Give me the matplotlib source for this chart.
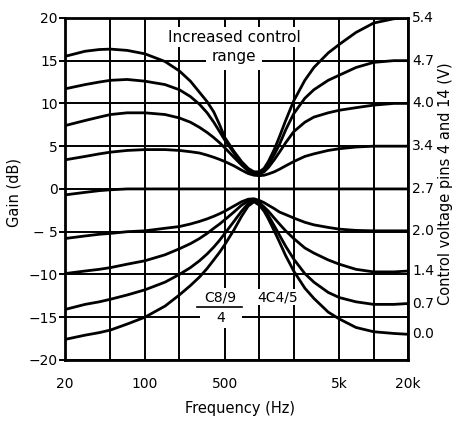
import numpy as np
import matplotlib.pyplot as plt
from matplotlib.patches import Rectangle

# frequencies (Hz) at which the curves were read
freq = [20, 30, 40, 50, 70, 100, 150, 200, 250, 300, 350, 400, 450, 500, 600, 700, 800, 900,
        1000, 1100, 1200, 1350, 1500, 1700, 2000, 2500, 3000, 4000, 5000, 7000, 10000, 15000, 20000]

# gain (dB) for each control voltage
g54 = [15.5, 16.1, 16.3, 16.35, 16.2, 15.8, 14.9, 13.8, 12.6, 11.3, 10.2, 9.0, 7.5, 6.0, 4.4, 3.2, 2.4, 2.0,
       2.0, 2.4, 3.2, 4.6, 6.1, 8.0, 10.3, 12.7, 14.2, 15.9, 16.9, 18.3, 19.4, 19.9, 20.0]
g47 = [11.7, 12.2, 12.5, 12.7, 12.8, 12.6, 12.2, 11.6, 10.8, 9.9, 8.9, 7.8, 6.7, 5.7, 4.2, 3.0, 2.2, 1.85,
       1.85, 2.2, 2.8, 4.0, 5.2, 6.9, 8.8, 10.6, 11.6, 12.7, 13.3, 14.2, 14.8, 15.0, 15.0]
g40 = [7.4, 8.0, 8.4, 8.7, 8.9, 8.9, 8.7, 8.3, 7.8, 7.2, 6.6, 6.0, 5.4, 4.8, 3.7, 2.8, 2.1, 1.75,
       1.75, 2.0, 2.5, 3.4, 4.3, 5.4, 6.7, 7.8, 8.4, 8.9, 9.2, 9.5, 9.8, 10.0, 10.0]
g34 = [3.4, 3.8, 4.1, 4.3, 4.5, 4.6, 4.6, 4.5, 4.35, 4.2, 3.95, 3.7, 3.45, 3.2, 2.7, 2.2, 1.8, 1.6,
       1.55, 1.6, 1.75, 2.0, 2.3, 2.7, 3.2, 3.8, 4.1, 4.5, 4.7, 4.9, 5.0, 5.0, 5.0]
g27 = [-0.7, -0.4, -0.2, -0.1, 0.0, 0.0, 0.0, 0.0, 0.0, 0.0, 0.0, 0.0, 0.0, 0.0, 0.0, 0.0, 0.0, 0.0,
       0.0, 0.0, 0.0, 0.0, 0.0, 0.0, 0.0, 0.0, 0.0, 0.0, 0.0, 0.0, 0.0, 0.0, 0.0]
g20 = [-5.8, -5.5, -5.3, -5.2, -5.0, -4.9, -4.6, -4.4, -4.1, -3.8, -3.5, -3.2, -2.9, -2.6, -2.0, -1.5, -1.2, -1.15,
       -1.35, -1.6, -1.9, -2.3, -2.7, -3.0, -3.4, -3.9, -4.2, -4.5, -4.7, -4.85, -4.9, -4.9, -4.9]
g14 = [-9.9, -9.6, -9.4, -9.2, -8.8, -8.4, -7.7, -7.0, -6.4, -5.8, -5.2, -4.6, -4.1, -3.6, -2.7, -1.9, -1.4, -1.25,
       -1.6, -2.1, -2.6, -3.4, -4.1, -4.9, -5.8, -6.9, -7.5, -8.3, -8.8, -9.4, -9.7, -9.7, -9.6]
g07 = [-14.1, -13.5, -13.2, -12.9, -12.4, -11.8, -10.9, -10.0, -9.2, -8.4, -7.6, -6.8, -6.0, -5.2, -3.8, -2.6, -1.7, -1.35,
       -1.7, -2.3, -3.1, -4.3, -5.4, -6.7, -8.2, -9.9, -10.9, -12.1, -12.7, -13.2, -13.5, -13.5, -13.4]
g00 = [-17.6, -17.1, -16.8, -16.5, -15.8, -15.0, -13.7, -12.4, -11.3, -10.3, -9.3, -8.3, -7.4, -6.5, -4.8, -3.2, -2.0, -1.5,
       -1.9, -2.6, -3.5, -4.9, -6.2, -7.8, -9.6, -11.6, -12.8, -14.4, -15.2, -16.2, -16.7, -16.9, -17.0]

curves = [g54, g47, g40, g34, g27, g20, g14, g07, g00]
volts = ['5.4', '4.7', '4.0', '3.4', '2.7', '2.0', '1.4', '0.7', '0.0']
volt_y = [20, 15, 10, 5, 0, -4.9, -9.6, -13.4, -17.0]

grid_f = [20, 50, 100, 200, 500, 1000, 2000, 5000, 10000, 20000]
xt = [20, 100, 500, 5000, 20000]
xt_lbl = ['20', '100', '500', '5k', '20k']
yt = [-20, -15, -10, -5, 0, 5, 10, 15, 20]
yt_lbl = ['\u221220', '\u221215', '\u221210', '\u2212 5', '0', '5', '10', '15', '20']

fig = plt.figure(figsize=(4.54, 4.26), dpi=100)
ax = fig.add_axes([0.143, 0.155, 0.756, 0.803])
ax.set_xscale('log')
ax.set_xlim(20, 20000)
ax.set_ylim(-20, 20)

for f in grid_f:
    ax.axvline(f, color='black', lw=1.4, zorder=1)
for v in yt:
    ax.axhline(v, color='black', lw=1.4, zorder=1)

for g in curves:
    ax.plot(freq, g, color='black', lw=2, zorder=3, solid_capstyle='round',
            solid_joinstyle='round')

ax.set_xticks(xt)
ax.set_xticklabels(xt_lbl)
# short stubs below the frame at 100 Hz and 5 kHz
ax.set_xticks([100, 5000], minor=True)
ax.set_xticklabels([], minor=True)
ax.set_yticks(yt)
ax.set_yticklabels(yt_lbl)
ax.tick_params(axis='x', which='major', length=0, pad=12, labelsize=10)
ax.tick_params(axis='x', which='minor', length=5, width=1.4, direction='out')
ax.tick_params(axis='y', length=4, width=1.4, direction='out', pad=1, labelsize=10)
for s in ax.spines.values():
    s.set_linewidth(2)

for lbl, yv in zip(volts, volt_y):
    ax.annotate(lbl, (20000, yv), xytext=(3, 0), textcoords='offset points',
                va='center', ha='left', fontsize=10, annotation_clip=False)

box = dict(fc='white', ec='none', pad=2)
ax.text(0.493, 0.944, 'Increased control', transform=ax.transAxes, ha='center',
        va='center', fontsize=11, bbox=box, zorder=2.5)
ax.text(0.493, 0.886, 'range', transform=ax.transAxes, ha='center', va='center',
        fontsize=11, bbox=dict(fc='white', ec='none', pad=4), zorder=2.5)

ax.add_patch(Rectangle((0.394, 0.094), 0.122, 0.117, transform=ax.transAxes,
                       fc='white', ec='none', zorder=2.4))
ax.text(0.452, 0.184, 'C8/9', transform=ax.transAxes, ha='center', va='center',
        fontsize=10, zorder=2.5)
ax.plot([0.385, 0.516], [0.155, 0.155], transform=ax.transAxes, color='black',
        lw=1.2, zorder=2.5)
ax.text(0.455, 0.123, '4', transform=ax.transAxes, ha='center', va='center',
        fontsize=10, zorder=2.5)
ax.text(0.621, 0.184, '4C4/5', transform=ax.transAxes, ha='center', va='center',
        fontsize=10, bbox=dict(fc='white', ec='none', pad=0.5), zorder=2.5)

fig.text(0.528, 0.042, 'Frequency (Hz)', ha='center', va='center', fontsize=10.5)
fig.text(0.031, 0.549, 'Gain (dB)', ha='center', va='center', rotation=90, fontsize=10.5)
fig.text(0.982, 0.568, 'Control voltage pins 4 and 14 (V)', ha='center', va='center',
         rotation=90, fontsize=10.5)

fig.savefig('out.png', dpi=100)
